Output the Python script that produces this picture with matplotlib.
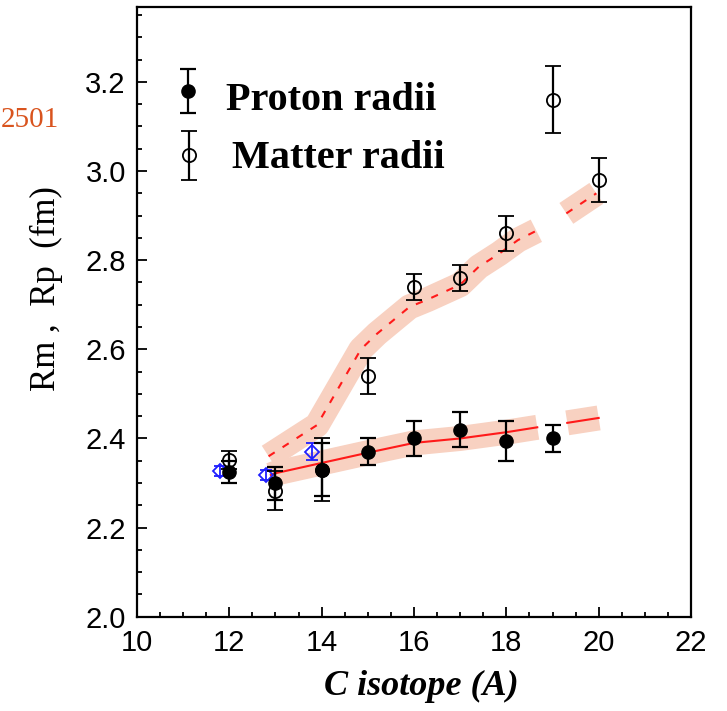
import matplotlib
matplotlib.use("Agg")
import matplotlib.pyplot as plt
from matplotlib.ticker import MultipleLocator

# Measured radii of carbon isotopes
proton_A = [12, 13, 14, 15, 16, 17, 18, 19]
proton_r = [2.325, 2.30, 2.33, 2.37, 2.40, 2.42, 2.395, 2.40]
proton_err = [0.025, 0.037, 0.06, 0.03, 0.04, 0.04, 0.045, 0.03]

matter_A = [12, 13, 14, 15, 16, 17, 18, 19, 20]
matter_r = [2.352, 2.283, 2.33, 2.54, 2.74, 2.76, 2.86, 3.16, 2.98]
matter_err = [0.02, 0.044, 0.07, 0.04, 0.03, 0.03, 0.04, 0.075, 0.05]

# Earlier charge-radius values (blue diamonds)
ref_A = [11.8, 12.8, 13.8]
ref_r = [2.327, 2.318, 2.37]
ref_err = [0.011, 0.011, 0.019]

# Calculated radii with uncertainty bands (two segments each)
proton_fit_A1 = [12.9, 13.0, 14.0, 15.0, 16.0, 17.0, 18.0, 18.67]
proton_fit_r1 = [2.318, 2.322, 2.345, 2.368, 2.390, 2.400, 2.414, 2.425]
proton_fit_A2 = [19.32, 20.0]
proton_fit_r2 = [2.435, 2.446]

matter_fit_A1 = [12.85, 13.9, 14.85, 15.2, 15.9, 16.3, 17.0, 17.4, 17.85, 18.25, 18.65]
matter_fit_r1 = [2.36, 2.43, 2.60, 2.635, 2.695, 2.712, 2.745, 2.785, 2.815, 2.845, 2.866]
matter_fit_A2 = [19.3, 19.95]
matter_fit_r2 = [2.905, 2.95]

x_ticks = [10, 12, 14, 16, 18, 20, 22]
y_ticks = [2.0, 2.2, 2.4, 2.6, 2.8, 3.0, 3.2]

band_color = "#f8d1c1"
line_color = "#ff1a1a"
serif = ["Liberation Serif", "DejaVu Serif"]
sans = ["Liberation Sans", "DejaVu Sans"]

fig = plt.figure(figsize=(7.27, 7.11), dpi=100)
ax = fig.add_axes([0.1884, 0.1326, 0.7621, 0.8575])

# uncertainty bands drawn as wide strokes
for xs, ys in [(proton_fit_A1, proton_fit_r1), (proton_fit_A2, proton_fit_r2),
               (matter_fit_A1, matter_fit_r1), (matter_fit_A2, matter_fit_r2)]:
    ax.plot(xs, ys, color=band_color, lw=18, solid_capstyle="butt",
            solid_joinstyle="round", zorder=1)

ax.plot(proton_fit_A1, proton_fit_r1, color=line_color, lw=1.5, zorder=2)
ax.plot(proton_fit_A2, proton_fit_r2, color=line_color, lw=1.5, zorder=2)
ax.plot(matter_fit_A1, matter_fit_r1, color=line_color, lw=1.5,
        linestyle=(0, (3.5, 4.5)), zorder=2)
ax.plot(matter_fit_A2, matter_fit_r2, color=line_color, lw=1.5,
        linestyle=(0, (3.5, 4.5)), zorder=2)

eb_kw = dict(ecolor="black", elinewidth=1.6, capsize=5.5, capthick=1.6,
             linestyle="none", zorder=4)
ax.errorbar(matter_A, matter_r, yerr=matter_err, marker="o", ms=9.5,
            mfc="none", mec="black", mew=1.3, **eb_kw)
ax.errorbar(proton_A, proton_r, yerr=proton_err, marker="o", ms=9.5,
            mfc="black", mec="black", **eb_kw)
ax.errorbar(ref_A, ref_r, yerr=ref_err, marker="D", ms=7, mfc="none",
            mec="#1f1fff", mew=1.3, ecolor="#1f1fff", elinewidth=1.3,
            capsize=4.5, capthick=1.3, linestyle="none", zorder=3)

# legend entries
ax.errorbar([0.0915], [0.862], yerr=[0.0356], transform=ax.transAxes,
            marker="o", ms=9.5, mfc="black", mec="black", clip_on=False, **eb_kw)
ax.errorbar([0.094], [0.757], yerr=[0.040], transform=ax.transAxes,
            marker="o", ms=9.5, mfc="none", mec="black", mew=1.3,
            clip_on=False, **eb_kw)
ax.text(0.1606, 0.831, "Proton radii", transform=ax.transAxes,
        family=serif, weight="bold", fontsize=29, va="baseline", ha="left")
ax.text(0.1715, 0.736, "Matter radii", transform=ax.transAxes,
        family=serif, weight="bold", fontsize=29, va="baseline", ha="left")

ax.set_xlim(10, 22)
ax.set_ylim(2.0, 3.368)
ax.set_xticks(x_ticks)
ax.set_yticks(y_ticks)
ax.set_xticklabels([str(v) for v in x_ticks])
ax.set_yticklabels([f"{v:.1f}" for v in y_ticks])
ax.xaxis.set_minor_locator(MultipleLocator(0.5))
ax.yaxis.set_minor_locator(MultipleLocator(0.05))
ax.tick_params(which="both", direction="in", top=False, right=False,
               width=1.3, colors="black")
ax.tick_params(which="major", length=7)
ax.tick_params(which="minor", length=3.6)
ax.tick_params(axis="x", pad=9)
ax.tick_params(axis="y", pad=8)
for lab in ax.get_xticklabels() + ax.get_yticklabels():
    lab.set_family(sans)
    lab.set_fontsize(21)
for sp in ax.spines.values():
    sp.set_linewidth(1.6)

ax.set_xlabel("C isotope (A)", family=serif, weight="bold", style="italic",
              fontsize=26, va="center")
ax.xaxis.set_label_coords(0.514, -0.1137)
ax.set_ylabel("Rm ,  Rp  (fm)", family=serif, fontsize=25, va="center")
ax.yaxis.set_label_coords(-0.163, 0.5375)

fig.text(0.001, 1 - 126.7 / 711, "2501", family=serif, fontsize=21,
         color="#d9541e", ha="left", va="baseline")

fig.savefig("out.png", dpi=100)
